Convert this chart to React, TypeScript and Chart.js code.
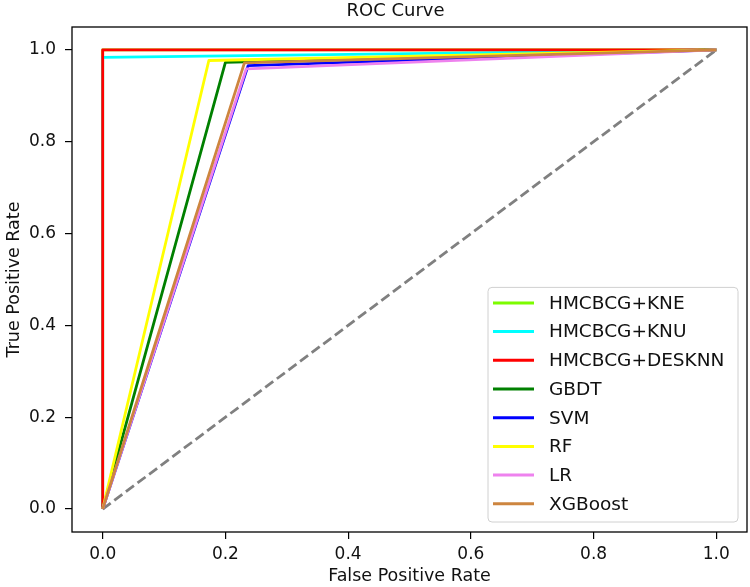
import React, { useEffect, useRef } from "react";
import { Chart, registerables } from "chart.js";

Chart.register(...registerables);

// ---- data ----
const SERIES_NAMES = ["HMCBCG+KNE", "HMCBCG+KNU", "HMCBCG+DESKNN", "GBDT", "SVM", "RF", "LR", "XGBoost"];
const SERIES_COLORS = ["#7CFC00", "#00FFFF", "#FF0000", "#008000", "#0000FF", "#FFFF00", "#EE82EE", "#CD853F"];

const FPR_KNE = [0, 0, 1];
const TPR_KNE = [0, 1, 1];
const FPR_KNU = [0, 0, 1];
const TPR_KNU = [0, 0.984, 1];
const FPR_DESKNN = [0, 0, 1];
const TPR_DESKNN = [0, 1, 1];
const FPR_GBDT = [0, 0.2, 1];
const TPR_GBDT = [0, 0.973, 1];
const FPR_SVM = [0, 0.237, 1];
const TPR_SVM = [0, 0.966, 1];
const FPR_RF = [0, 0.173, 1];
const TPR_RF = [0, 0.977, 1];
const FPR_LR = [0, 0.234, 1];
const TPR_LR = [0, 0.959, 1];
const FPR_XGB = [0, 0.231, 1];
const TPR_XGB = [0, 0.972, 1];

const DIAG_X = [0, 1];
const DIAG_Y = [0, 1];

const AXIS_TICKS = [0, 0.2, 0.4, 0.6, 0.8, 1.0];

const TITLE = "ROC Curve";
const X_LABEL = "False Positive Rate";
const Y_LABEL = "True Positive Rate";

const FONT = "'DejaVu Sans', sans-serif";
const TEXT_COLOR = "#111";

const SERIES_FPR = [FPR_KNE, FPR_KNU, FPR_DESKNN, FPR_GBDT, FPR_SVM, FPR_RF, FPR_LR, FPR_XGB];
const SERIES_TPR = [TPR_KNE, TPR_KNU, TPR_DESKNN, TPR_GBDT, TPR_SVM, TPR_RF, TPR_LR, TPR_XGB];

const toPoints = (xs: number[], ys: number[]) => xs.map((x, i) => ({ x, y: ys[i] }));

const decorPlugin = {
  id: "decor",
  afterDatasetsDraw(chart: any) {
    const { ctx, chartArea } = chart;
    ctx.save();
    ctx.strokeStyle = "#000";
    ctx.lineWidth = 1.3;
    ctx.strokeRect(chartArea.left, chartArea.top, chartArea.right - chartArea.left, chartArea.bottom - chartArea.top);
    ctx.restore();
  },
  afterDraw(chart: any) {
    const { ctx, chartArea } = chart;
    ctx.save();
    // title
    ctx.fillStyle = TEXT_COLOR;
    ctx.font = `18px ${FONT}`;
    ctx.textAlign = "center";
    ctx.textBaseline = "middle";
    ctx.fillText(TITLE, (chartArea.left + chartArea.right) / 2 - 14, 11);

    // legend
    const boxRight = chartArea.right - 9;
    const boxBottom = chartArea.bottom - 10;
    const boxW = 250;
    const rowH = 28.7;
    const boxH = rowH * SERIES_NAMES.length + 5;
    const boxLeft = boxRight - boxW;
    const boxTop = boxBottom - boxH;
    ctx.beginPath();
    const r = 4;
    ctx.moveTo(boxLeft + r, boxTop);
    ctx.arcTo(boxRight, boxTop, boxRight, boxBottom, r);
    ctx.arcTo(boxRight, boxBottom, boxLeft, boxBottom, r);
    ctx.arcTo(boxLeft, boxBottom, boxLeft, boxTop, r);
    ctx.arcTo(boxLeft, boxTop, boxRight, boxTop, r);
    ctx.closePath();
    ctx.fillStyle = "rgba(255,255,255,0.8)";
    ctx.fill();
    ctx.strokeStyle = "#d0d0d0";
    ctx.lineWidth = 1;
    ctx.stroke();

    ctx.font = `18.5px ${FONT}`;
    ctx.textAlign = "left";
    ctx.textBaseline = "middle";
    SERIES_NAMES.forEach((name, i) => {
      const y = boxTop + 15.5 + i * rowH;
      ctx.strokeStyle = SERIES_COLORS[i];
      ctx.lineWidth = 3;
      ctx.beginPath();
      ctx.moveTo(boxLeft + 5, y);
      ctx.lineTo(boxLeft + 46, y);
      ctx.stroke();
      ctx.fillStyle = TEXT_COLOR;
      ctx.fillText(name, boxLeft + 61, y + 1);
    });
    ctx.restore();
  },
};

export default function App() {
  const canvasRef = useRef<HTMLCanvasElement | null>(null);

  useEffect(() => {
    if (!canvasRef.current) return;
    const n = SERIES_NAMES.length;
    const datasets: any[] = SERIES_NAMES.map((name, i) => ({
      label: name,
      data: toPoints(SERIES_FPR[i], SERIES_TPR[i]),
      borderColor: SERIES_COLORS[i],
      backgroundColor: SERIES_COLORS[i],
      borderWidth: 2.8,
      pointRadius: 0,
      fill: false,
      tension: 0,
      order: n - i,
      borderJoinStyle: "round",
    }));
    datasets.push({
      label: "diag",
      data: toPoints(DIAG_X, DIAG_Y),
      borderColor: "#808080",
      borderWidth: 2.8,
      borderDash: [10, 4.5],
      pointRadius: 0,
      fill: false,
      order: 100,
    });

    const tickCb = (v: any) => Number(v).toFixed(1);
    const setTicks = (scale: any) => {
      scale.ticks = AXIS_TICKS.map((v) => ({ value: v }));
    };

    const chart = new Chart(canvasRef.current, {
      type: "line",
      data: { datasets },
      plugins: [decorPlugin],
      options: {
        animation: false,
        responsive: false,
        maintainAspectRatio: false,
        layout: { padding: { top: 27, right: 3, left: 0, bottom: 0 } },
        plugins: {
          legend: { display: false },
          title: { display: false },
          tooltip: { enabled: false },
        },
        scales: {
          x: {
            type: "linear",
            min: -0.05,
            max: 1.05,
            afterBuildTicks: setTicks,
            afterFit: (s: any) => {
              s.height = 55;
            },
            border: { display: false },
            grid: { drawOnChartArea: false, drawTicks: true, tickLength: 7, color: "#000", lineWidth: 1.2 },
            ticks: { callback: tickCb, color: TEXT_COLOR, font: { family: FONT, size: 17 }, padding: 5, maxRotation: 0, autoSkip: false },
            title: { display: true, text: X_LABEL, color: TEXT_COLOR, font: { family: FONT, size: 17.5 }, padding: { top: 0, bottom: 0 } },
          },
          y: {
            type: "linear",
            min: -0.05,
            max: 1.05,
            afterBuildTicks: setTicks,
            afterFit: (s: any) => {
              s.width = 72;
            },
            border: { display: false },
            grid: { drawOnChartArea: false, drawTicks: true, tickLength: 7, color: "#000", lineWidth: 1.2 },
            ticks: { callback: tickCb, color: TEXT_COLOR, font: { family: FONT, size: 17 }, padding: 9, autoSkip: false },
            title: { display: true, text: Y_LABEL, color: TEXT_COLOR, font: { family: FONT, size: 17.5 }, padding: { top: 4, bottom: 0 } },
          },
        },
      },
    });
    return () => chart.destroy();
  }, []);

  return (
    <div style={{ position: "fixed", left: 0, top: 0, width: 750, height: 587, background: "#fff" }}>
      <canvas ref={canvasRef} width={750} height={587} style={{ width: 750, height: 587 }} />
    </div>
  );
}
